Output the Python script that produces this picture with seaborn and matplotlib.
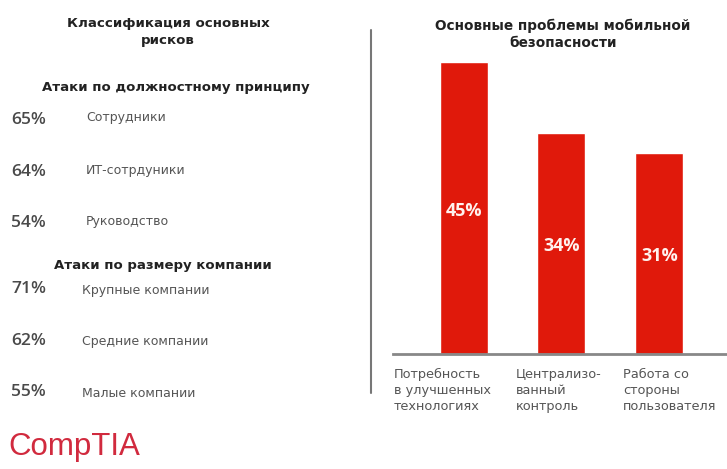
import matplotlib
matplotlib.use("Agg")
import matplotlib.pyplot as plt
import seaborn as sns
import pandas as pd
from matplotlib.lines import Line2D

# ---- data ----
left_title = "Классификация основных\nрисков"
group1_title = "Атаки по должностному принципу"
group1_labels = ["Сотрудники", "ИТ-сотрдуники", "Руководство"]
group1_pcts = [65, 64, 54]
group2_title = "Атаки по размеру компании"
group2_labels = ["Крупные компании", "Средние компании", "Малые компании"]
group2_pcts = [71, 62, 55]

right_title = "Основные проблемы мобильной\nбезопасности"
categories = ["Потребность\nв улучшенных\nтехнологиях",
              "Централизо-\nванный\nконтроль",
              "Работа со\nстороны\nпользователя"]
values = [45, 34, 31]

sns.set_theme(style="white")
plt.rcParams['font.family'] = ['DejaVu Sans']

W, H = 727, 469
fig = plt.figure(figsize=(W / 100, H / 100), dpi=100)
fig.patch.set_facecolor("white")

def px(x, y):
    return x / W, 1 - y / H

TEXT_DARK = "#222222"
TEXT_GRAY = "#555555"
PCT_GRAY = "#4a4a4a"
RED = "#e0190b"

# ---- left panel texts ----
fig.text(*px(168, 32), left_title, ha="center", va="center", fontsize=9.6,
         fontweight="bold", color=TEXT_DARK, linespacing=1.4)
fig.text(*px(176, 87), group1_title, ha="center", va="center", fontsize=9.5,
         fontweight="bold", color=TEXT_DARK)
ys1 = [120, 172, 223]
for y, lab, p in zip(ys1, group1_labels, group1_pcts):
    fig.text(*px(11, y), f"{p}%", ha="left", va="center", fontsize=12.5,
             color=PCT_GRAY, family="Open Sans", fontweight="semibold")
    fig.text(*px(86, y - 2), lab, ha="left", va="center", fontsize=9,
             color=TEXT_GRAY)
fig.text(*px(163, 265), group2_title, ha="center", va="center", fontsize=9.5,
         fontweight="bold", color=TEXT_DARK)
ys2 = [289, 341, 392]
for y, lab, p in zip(ys2, group2_labels, group2_pcts):
    fig.text(*px(11, y), f"{p}%", ha="left", va="center", fontsize=12.5,
             color=PCT_GRAY, family="Open Sans", fontweight="semibold")
    fig.text(*px(82, y + 1), lab, ha="left", va="center", fontsize=9,
             color=TEXT_GRAY)

fig.text(*px(8, 447), "CompTIA", ha="left", va="center", fontsize=22.5,
         color="#d12a3e", family="Liberation Sans")

# divider
fig.add_artist(Line2D([371 / W, 371 / W], [1 - 30 / H, 1 - 393 / H],
                      color="#777777", lw=1.5, transform=fig.transFigure))

# ---- right bar chart ----
ax = fig.add_axes([393 / W, 115 / H, 334 / W, (354 - 29.5) / H])
df = pd.DataFrame({"cat": categories, "val": values})
sns.barplot(data=df, x="cat", y="val", color=RED, saturation=1, width=0.49, ax=ax)
ax.set_ylim(0, 50)
ax.set_xlim(-0.72, 2.69)
ax.set_xlabel("")
ax.set_ylabel("")
ax.set_xticks([])
ax.set_yticks([])
for s in ["top", "right", "left"]:
    ax.spines[s].set_visible(False)
ax.spines["bottom"].set_color("#888888")
ax.spines["bottom"].set_linewidth(2)
ax.patch.set_alpha(0)

for i, v in enumerate(values):
    ax.text(i, v / 2 - 0.4, f"{v}%", ha="center", va="center", fontsize=13,
            fontweight="bold", color="#fff2ee", family="Open Sans")

label_x = [394, 516, 623]
for x, lab in zip(label_x, categories):
    fig.text(*px(x, 368), lab, ha="left", va="top", fontsize=9.3,
             color=TEXT_GRAY, linespacing=1.3)

fig.text(*px(563, 34), right_title, ha="center", va="center", fontsize=9.8,
         fontweight="bold", color=TEXT_DARK, linespacing=1.3)

fig.savefig("out.png", dpi=100, facecolor="white")
